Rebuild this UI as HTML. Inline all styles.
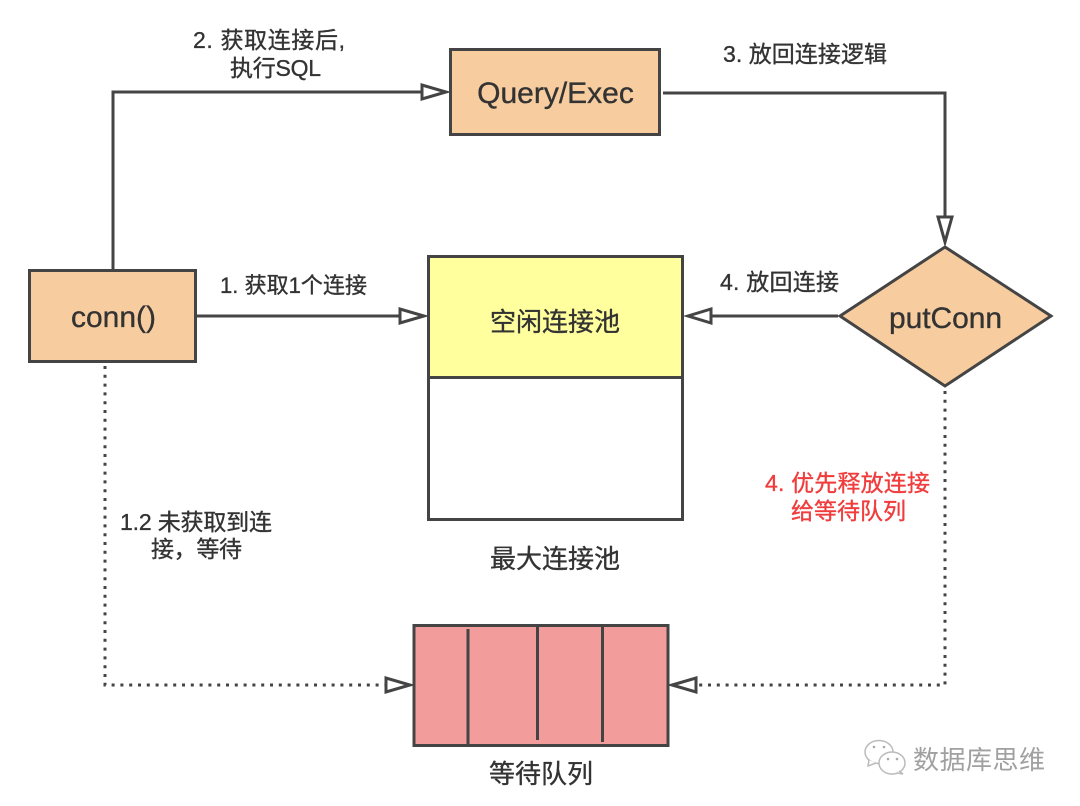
<!DOCTYPE html>
<html>
<head>
<meta charset="utf-8">
<style>
html,body{margin:0;padding:0;background:#fff;width:1080px;height:806px;overflow:hidden}
svg{display:block;position:absolute;left:0;top:0}
text{font-family:"Liberation Sans","Noto Sans CJK SC",sans-serif;fill:#333;stroke:#333;stroke-width:.35px}
text.r{fill:#f03c3c;stroke:#f03c3c}
text.w{fill:#a0a0a0;stroke:none}
</style>
</head>
<body>
<svg width="1080" height="806" viewBox="0 0 1080 806" xmlns="http://www.w3.org/2000/svg">
<g fill="none" stroke="#444" stroke-width="3">
  <polyline points="113,269 113,92 424,92"/>
  <polyline points="663,93 945,93 945,217"/>
  <line x1="197" y1="316" x2="400" y2="316"/>
  <line x1="838" y1="316" x2="711" y2="316"/>
  <polyline points="105,366 105,685 386,685" stroke-dasharray="3 5.800"/>
  <polyline points="945,391 945,685 696,685" stroke-dasharray="3 5.800"/>
</g>
<g fill="#fff" stroke="#444" stroke-width="3">
  <polygon points="422,85 422,99 446,92"/>
  <polygon points="938,217 952,217 945,242"/>
  <polygon points="400,309 400,323 424,316"/>
  <polygon points="711,309 711,323 688,316"/>
  <polygon points="386,678 386,692 410,685"/>
  <polygon points="696,678 696,692 672,685"/>
</g>
<g stroke="#444" stroke-width="3">
  <rect x="29.500" y="270.500" width="166" height="91" fill="#f7cda0"/>
  <rect x="450.500" y="49.500" width="209" height="85" fill="#f7cda0"/>
  <polygon points="945,247 1051,316 945,386 840,316" fill="#f7cda0"/>
  <rect x="428.500" y="256.500" width="254" height="121" fill="#ffff9e"/>
  <rect x="428.500" y="377.500" width="254" height="142" fill="#fff"/>
  <rect x="414" y="625.500" width="254" height="120" fill="#f29c9c"/>
  <line x1="468" y1="629" x2="468" y2="745"/>
  <line x1="537.500" y1="626" x2="537.500" y2="740"/>
  <line x1="602.500" y1="626" x2="602.500" y2="742"/>
</g>
<g text-anchor="middle">
  <text x="113.500" y="327" font-size="30">conn()</text>
  <text x="555.500" y="103" font-size="30">Query/Exec</text>
  <text x="945.500" y="328" font-size="30" textLength="113">putConn</text>
  <text x="555" y="331" font-size="26">空闲连接池</text>
  <text x="555" y="568" font-size="26">最大连接池</text>
  <text x="541" y="783" font-size="26">等待队列</text>
</g>
<g font-size="23">
  <text x="193" y="48" textLength="152">2. 获取连接后,</text>
  <text x="230" y="76" textLength="91">执行SQL</text>
  <text x="723" y="62" textLength="164">3. 放回连接逻辑</text>
  <text x="220" y="293" textLength="147" font-size="22">1. 获取1个连接</text>
  <text x="720" y="290" textLength="119">4. 放回连接</text>
  <text x="120" y="530" textLength="152">1.2 未获取到连</text>
  <text x="151" y="557" textLength="91">接，等待</text>
  <text class="r" x="765" y="491" textLength="165">4. 优先释放连接</text>
  <text class="r" x="791" y="519" textLength="115">给等待队列</text>
</g>
<g fill="#fff" stroke="#bbb" stroke-width="1.500">
  <ellipse cx="879" cy="752" rx="14" ry="11.500"/>
  <path d="M869 760 L868 766 L876 763" />
  <ellipse cx="892" cy="763" rx="13" ry="11"/>
  <path d="M899 771 L903 774 L897 773"/>
</g>
<g fill="#aaa">
  <circle cx="874" cy="747" r="1.300"/><circle cx="884" cy="747" r="1.300"/>
  <circle cx="888" cy="759" r="1.300"/><circle cx="897" cy="759" r="1.300"/>
</g>
<text class="w" x="913" y="769" font-size="26" textLength="132">数据库思维</text>
</svg>
</body>
</html>
